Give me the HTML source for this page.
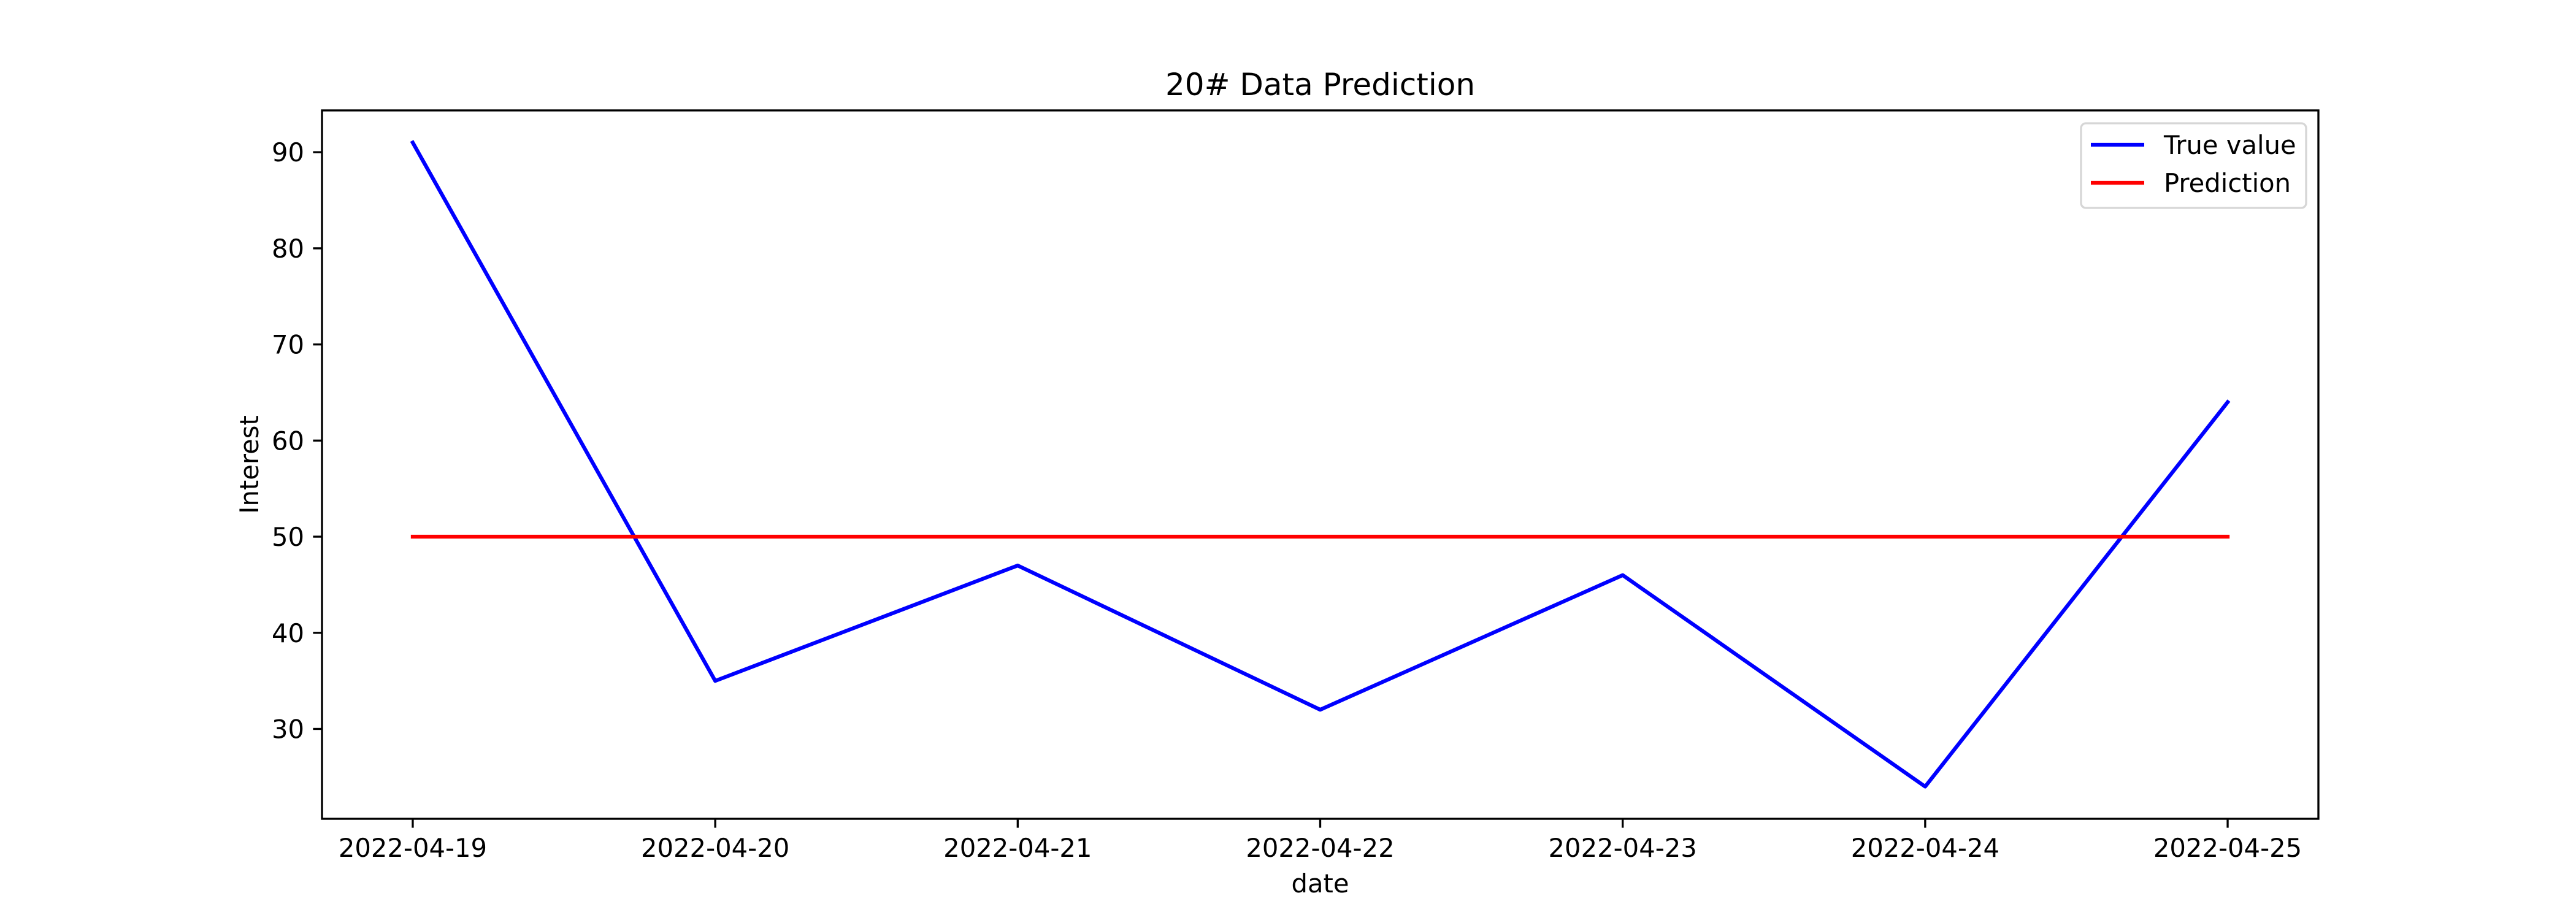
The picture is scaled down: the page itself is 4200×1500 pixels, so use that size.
<!DOCTYPE html>
<html><head><meta charset="utf-8"><style>
html,body{margin:0;padding:0;background:#fff;}
svg{display:block;font-family:"DejaVu Sans","Liberation Sans",sans-serif;}
</style></head><body>
<svg id="chart" width="4200" height="1500" viewBox="0 0 4200 1500" xmlns="http://www.w3.org/2000/svg">
<rect width="4200" height="1500" fill="#fff"/>
<g id="plot"></g>
</svg>
<script>
const categories = ["2022-04-19","2022-04-20","2022-04-21","2022-04-22","2022-04-23","2022-04-24","2022-04-25"];
const trueValues = [91,35,47,32,46,24,64];
const predValues = [50,50,50,50,50,50,50];
const yTicks = [30,40,50,60,70,80,90];

const L=525,R=3780,T=180,B=1335;
const n=categories.length;
const xmin=-0.3,xmax=n-1+0.3;
const all=trueValues.concat(predValues);
const dmin=Math.min(...all),dmax=Math.max(...all),pad=(dmax-dmin)*0.05;
const ymin=dmin-pad,ymax=dmax+pad;
const xs=i=>L+(i-xmin)/(xmax-xmin)*(R-L);
const ys=v=>B-(v-ymin)/(ymax-ymin)*(B-T);
const NS="http://www.w3.org/2000/svg";
const g=document.getElementById('plot');
function mk(tag,attrs,text){const e=document.createElementNS(NS,tag);for(const k in attrs)e.setAttribute(k,attrs[k]);if(text!==undefined)e.textContent=text;g.appendChild(e);return e;}

function series(vals,color,name){
  const p=mk('polyline',{points:vals.map((v,i)=>xs(i)+','+ys(v)).join(' '),fill:'none',stroke:color,'stroke-width':6.25,'stroke-linejoin':'round','stroke-linecap':'square'});
  
  
}
series(trueValues,'#0000ff','true-value-line');
series(predValues,'#ff0000','prediction-line');

const frame=mk('rect',{x:L,y:T,width:R-L,height:B-T,fill:'none',stroke:'#000','stroke-width':3.33});



categories.forEach((c,i)=>{
  const x=xs(i);
  const t=mk('line',{x1:x,x2:x,y1:B,y2:B+14.6,stroke:'#000','stroke-width':3.33});
  
  
  const lb=mk('text',{x:x,y:B+62,'font-size':41.7,'text-anchor':'middle',fill:'#000'},c);
  
  
});
yTicks.forEach(v=>{
  const y=ys(v);
  const t=mk('line',{x1:L-14.6,x2:L,y1:y,y2:y,stroke:'#000','stroke-width':3.33});
  
  
  const lb=mk('text',{x:L-29,y:y+15,'font-size':41.7,'text-anchor':'end',fill:'#000'},String(v));
  
  
});

const title=mk('text',{x:(L+R)/2,y:155,'font-size':50,'text-anchor':'middle',fill:'#000'},'20# Data Prediction');


const xl=mk('text',{x:(L+R)/2,y:1455,'font-size':41.7,'text-anchor':'middle',fill:'#000'},'date');


const yl=mk('text',{x:0,y:0,'font-size':41.7,'text-anchor':'middle',fill:'#000',transform:'translate(421,'+((T+B)/2)+') rotate(-90)'},'Interest');



const lg=mk('rect',{x:3393,y:201,width:367,height:138,rx:8,fill:'#fff','fill-opacity':0.8,stroke:'#d6d6d6','stroke-width':3.33});


[['True value','#0000ff',236],['Prediction','#ff0000',298]].forEach(([name,col,y])=>{
  const l=mk('line',{x1:3409,x2:3496,y1:y,y2:y,stroke:col,'stroke-width':6.25});
  
  
  const t=mk('text',{x:3528,y:y+15,'font-size':41.7,fill:'#000'},name);
  
  
});
</script>
</body></html>
